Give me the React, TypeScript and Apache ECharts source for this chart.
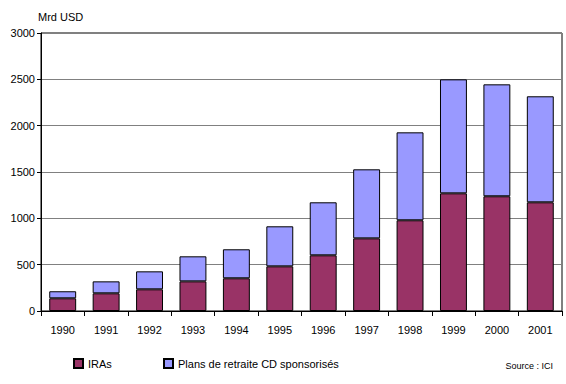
import React, { useEffect, useRef } from "react";
import * as echarts from "echarts";

const years = ["1990", "1991", "1992", "1993", "1994", "1995", "1996", "1997", "1998", "1999", "2000", "2001"];
const iras = [137, 191, 234, 320, 353, 482, 601, 784, 979, 1270, 1238, 1173];
const plansCD = [76, 129, 194, 270, 313, 432, 572, 745, 949, 1230, 1208, 1144];
const yTicks = [0, 500, 1000, 1500, 2000, 2500, 3000];

const FONT = "Liberation Sans, Arial, sans-serif";

export default function App() {
  const ref = useRef<HTMLDivElement>(null);
  useEffect(() => {
    if (!ref.current) return;
    const chart = echarts.init(ref.current, undefined, { renderer: "svg" });
    chart.setOption({
      animation: false,
      textStyle: { fontFamily: FONT },
      grid: {
        left: 41, right: 4, top: 33, bottom: 73,
        show: true, borderColor: "#000", borderWidth: 1,
      },
      legend: [
        {
          data: ["IRAs"], left: 73, top: 358, padding: 0, itemWidth: 9, itemHeight: 9, icon: "rect",
          textStyle: { fontFamily: FONT, fontSize: 11, color: "#000" },
        },
        {
          data: ["Plans de retraite CD sponsorisés"], left: 163, top: 358, padding: 0, itemWidth: 9, itemHeight: 9, icon: "rect",
          textStyle: { fontFamily: FONT, fontSize: 11, color: "#000" },
        },
      ],
      graphic: [
        { type: "text", left: 38, top: 11, style: { text: "Mrd USD", font: "11px " + FONT, fill: "#000" } },
        { type: "text", right: 13, top: 361, style: { text: "Source : ICI", font: "9px " + FONT, fill: "#000" } },
      ],
      xAxis: {
        type: "category",
        data: years,
        axisLine: { lineStyle: { color: "#000", width: 1 } },
        axisTick: { show: true, length: 5, lineStyle: { color: "#000" } },
        axisLabel: { color: "#000", fontSize: 11, fontFamily: FONT, margin: 13 },
      },
      yAxis: {
        type: "value",
        min: yTicks[0], max: yTicks[yTicks.length - 1], interval: 500,
        axisLine: { show: true, lineStyle: { color: "#000", width: 1 } },
        axisTick: { show: true, length: 4, lineStyle: { color: "#000" } },
        axisLabel: { color: "#000", fontSize: 11, fontFamily: FONT, margin: 6, formatter: (v: number) => String(v) },
        splitLine: { show: true, lineStyle: { color: "#808080", width: 1 } },
      },
      series: [
        {
          name: "IRAs", type: "bar", stack: "t", data: iras, barCategoryGap: "38%",
          itemStyle: { color: "#993366", borderColor: "#000", borderWidth: 1 },
        },
        {
          name: "Plans de retraite CD sponsorisés", type: "bar", stack: "t", data: plansCD, barCategoryGap: "38%",
          itemStyle: { color: "#9999FF", borderColor: "#000", borderWidth: 1 },
        },
      ],
    });
    return () => chart.dispose();
  }, []);
  return <div ref={ref} style={{ width: 566, height: 384, position: "absolute", left: 0, top: 0 }} />;
}
